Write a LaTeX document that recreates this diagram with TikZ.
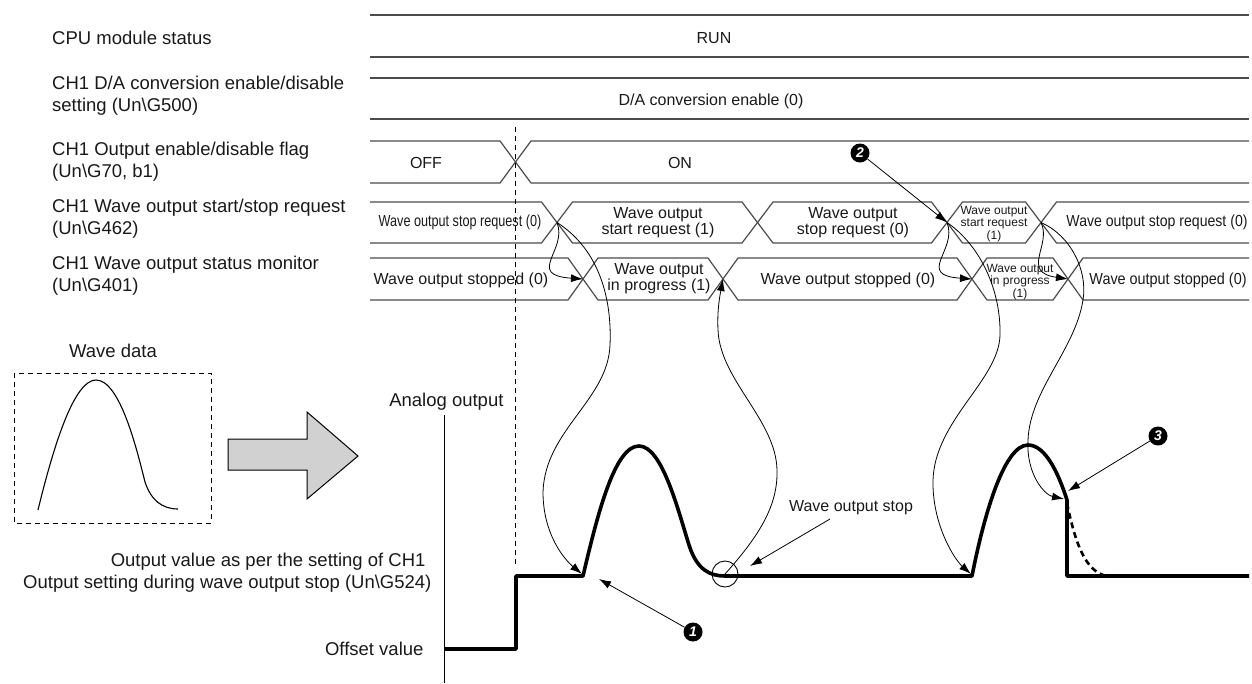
\documentclass[tikz,border=0pt]{standalone}
\usepackage{fontspec}
\usepackage{graphicx}
\setmainfont{Liberation Sans}
\usetikzlibrary{arrows.meta}
\begin{document}
\begin{tikzpicture}[x=1pt,y=-1pt,
  tl/.style={black!70, line width=1.2pt},
  lbl/.style={anchor=west, align=left, font=\fontsize{18.5}{22}\selectfont, inner sep=0pt, text=black!90},
  tt/.style={font=\fontsize{16}{16}\selectfont, align=center, inner sep=0pt, text=black!90},
  ts/.style={font=\fontsize{12}{12.5}\selectfont, align=center, inner sep=0pt, text=black!90},
  conn/.style={line width=0.8pt, -{Latex[length=12pt,width=8pt]}},
  wave/.style={line width=3.6pt, line join=round},
  marker/.style={circle, fill=black, text=white, inner sep=0pt, minimum size=19pt, font=\fontsize{14}{14}\selectfont\bfseries\itshape},
]
\useasboundingbox (0,0) rectangle (1252,683);

% ---------- left labels ----------
\node[lbl] (l1) at (52,38) {CPU module status};
\node[lbl] (l2) at (52,96) {CH1 D/A conversion enable/disable\\setting (Un\textbackslash G500)};
\node[lbl] (l3) at (52,161.5) {CH1 Output enable/disable flag\\(Un\textbackslash G70, b1)};
\node[lbl] (l4) at (52,218.5) {CH1 Wave output start/stop request\\(Un\textbackslash G462)};
\node[lbl] (l5) at (52,276) {CH1 Wave output status monitor\\(Un\textbackslash G401)};

% ---------- timing rows ----------
\draw[tl] (370,15) -- (1249,15);
\draw[tl] (370,57) -- (1249,57);
\draw[tl] (370,78) -- (1249,78);
\draw[tl] (370,119) -- (1249,119);
\node[tt] (run) at (714,38) {RUN};
\node[tt] (da) at (711,101) {D/A conversion enable (0)};

% row 3
\draw[tl] (370,141) -- (500,141) -- (531,183) -- (1249,183);
\draw[tl] (370,183) -- (500,183) -- (531,141) -- (1249,141);
\node[tt] (off) at (426,163) {OFF};
\node[tt] (on) at (680,163) {ON};

% row 4
\draw[tl] (370,202) -- (541.5,202) -- (572.5,243) -- (742,243) -- (773,202) -- (931.5,202) -- (962.5,243) -- (1025.5,243) -- (1056.5,202) -- (1249,202);
\draw[tl] (370,243) -- (541.5,243) -- (572.5,202) -- (742,202) -- (773,243) -- (931.5,243) -- (962.5,202) -- (1025.5,202) -- (1056.5,243) -- (1249,243);
\node[tt] (r4t1) at (460,222.5) {\scalebox{0.79}[1]{Wave output stop request (0)}};
\node[tt] (r4t2) at (658,222.5) {Wave output\\start request (1)};
\node[tt] (r4t3) at (853,222.5) {Wave output\\stop request (0)};
\node[ts] (r4t4) at (994,224) {Wave output\\start request\\(1)};
\node[tt] (r4t5) at (1157,222.5) {\scalebox{0.88}[1]{Wave output stop request (0)}};

% row 5
\draw[tl] (370,258) -- (568,258) -- (598,300) -- (708,300) -- (738,258) -- (957,258) -- (987,300) -- (1053,300) -- (1083,258) -- (1249,258);
\draw[tl] (370,300) -- (568,300) -- (598,258) -- (708,258) -- (738,300) -- (957,300) -- (987,258) -- (1053,258) -- (1083,300) -- (1249,300);
\node[tt] (r5t1) at (461,280) {Wave output stopped (0)};
\node[tt] (r5t2) at (659,279) {Wave output\\in progress (1)};
\node[tt] (r5t3) at (848,280) {Wave output stopped (0)};
\node[ts] (r5t4) at (1020,282) {Wave output\\in progress\\(1)};
\node[tt] (r5t5) at (1168,280) {\scalebox{0.9}[1]{Wave output stopped (0)}};

% crossing points
\coordinate (r4a) at (557,222.5);
\coordinate (r4c) at (947,222.5);
\coordinate (r4d) at (1041,222.5);
\coordinate (r5a) at (583,279);
\coordinate (r5b) at (723,279);
\coordinate (r5c) at (972,279);
\coordinate (r5d) at (1068,279);

% dashed vertical
\draw[line width=1pt, dash pattern=on 5pt off 4pt] (515,127) -- (515,565);

% ---------- wave data ----------
\node[font=\fontsize{18.5}{22}\selectfont, text=black!90] (wd) at (113,351) {Wave data};
\draw[line width=1pt, dash pattern=on 5pt off 4pt] (14,373) rectangle (211,523);
\draw[line width=1.1pt] (38,510) .. controls (55,440) and (75,380) .. (96,380) .. controls (120,380) and (137,450) .. (145,482) .. controls (151,500) and (162,509) .. (178,509);

\draw[line width=1pt, fill=black!18] (228,439) -- (307,439) -- (307,412) -- (358,456) -- (307,499) -- (307,470) -- (228,470) -- cycle;

% ---------- analog output ----------
\node[font=\fontsize{18.5}{22}\selectfont, text=black!90, anchor=east] (ao) at (507,402) {Analog output};
\draw[line width=1pt] (444,415) -- (444,683);
\node[font=\fontsize{18.5}{22}\selectfont, text=black!90, anchor=east] (ov1) at (429,562) {Output value as per the setting of CH1};
\node[font=\fontsize{18.5}{22}\selectfont, text=black!90, anchor=east] (ov2) at (435,584) {Output setting during wave output stop (Un\textbackslash G524)};
\node[font=\fontsize{18.5}{22}\selectfont, text=black!90, anchor=east] (offv) at (427,649) {Offset value};

\draw[wave] (444,649) -- (516,649) -- (516,576) -- (583,576)
  .. controls (598,512) and (615,446) .. (639,446)
  .. controls (662,446) and (678,510) .. (689,545)
  .. controls (697,570) and (710,576) .. (725,576)
  -- (972,576)
  .. controls (985,510) and (1005,445) .. (1028,445)
  .. controls (1045,445) and (1058,472) .. (1067,500)
  -- (1067,576) -- (1249,576);
\draw[line width=2.6pt, dash pattern=on 6pt off 4pt] (1067,503) .. controls (1075,542) and (1085,572) .. (1107,576);

\node[circle, draw, line width=0.9pt, minimum size=26pt, inner sep=0pt] (stopc) at (725,574) {};
\node[tt] (wos) at (851,508) {Wave output stop};
\coordinate (wosa) at (830,519);
\coordinate (wosb) at (750,566);
\draw[conn] (wosa) -- (wosb);

% ---------- markers ----------
\node[marker] (m1) at (693,632) {1};
\node[marker] (m2) at (860,153) {2};
\node[marker] (m3) at (1158,436) {3};
\coordinate (p1) at (599,579);
\coordinate (p3) at (1068,491);
\draw[conn] (m1) -- (p1);
\draw[conn] (m2) -- (r4c);
\draw[conn] (m3) -- (p3);

% ---------- curved arrows ----------
\coordinate (ws1) at (582,574);
\coordinate (ws2) at (971,574);
\coordinate (wst) at (1064,499);

\draw[conn] (r4a) .. controls (568,250) and (525,275) .. (r5a);
\draw[conn] (r4a) .. controls (600,250) and (612,300) .. (610,345)
  .. controls (608,400) and (545,430) .. (543,492)
  .. controls (543,535) and (565,560) .. (ws1);
\draw[conn] (stopc.center) .. controls (760,535) and (778,505) .. (777,470)
  .. controls (776,420) and (720,380) .. (718,330)
  .. controls (717,310) and (720,295) .. (r5b);
\draw[conn] (r4c) .. controls (958,250) and (915,275) .. (r5c);
\draw[conn] (r4c) .. controls (980,245) and (1001,290) .. (1000,335)
  .. controls (999,380) and (935,420) .. (933,480)
  .. controls (932,525) and (955,560) .. (ws2);
\draw[conn] (r4d) .. controls (1052,245) and (1020,272) .. (r5d);
\draw[conn] (r4d) .. controls (1070,235) and (1088,270) .. (1083,300)
  .. controls (1075,350) and (1030,390) .. (1028,440)
  .. controls (1026,475) and (1045,495) .. (wst);
\end{tikzpicture}
\end{document}
